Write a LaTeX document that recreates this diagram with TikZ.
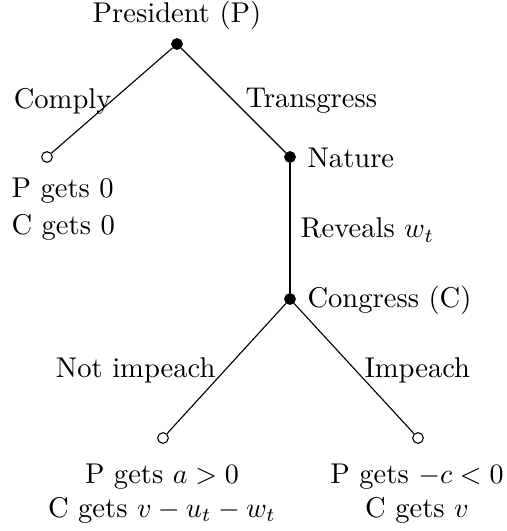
\documentclass[tikz,border=0pt]{standalone}
\usetikzlibrary{calc}
\begin{document}
\begin{tikzpicture}[x=0.357pt,y=-0.357pt,
  full/.style={circle,fill=black,draw=black,inner sep=0pt,minimum size=3.8pt},
  hollow/.style={circle,fill=white,draw=black,inner sep=0pt,minimum size=3.8pt},
  txt/.style={inner sep=0pt,font=\fontsize{10.2}{12.2}\selectfont}]
\useasboundingbox (0,0) rectangle (507,531);
\node[full] (root) at (177,44) {};
\node[hollow] (comply) at (47,157) {};
\node[full] (nature) at (290,157) {};
\node[full] (congress) at (290,299) {};
\node[hollow] (noimp) at (163,438) {};
\node[hollow] (imp) at (418,438) {};
\draw (root) -- (comply);
\draw (root) -- (nature);
\draw (nature) -- (congress);
\draw (congress) -- (noimp);
\draw (congress) -- (imp);
\node[txt] (tP) at (177,15) {President (P)};
\node[txt,anchor=west] (tN) at (307,158) {Nature};
\node[txt,anchor=west] (tC) at (307,300) {Congress (C)};
\node[txt,anchor=east] (lComply) at (112,101) {Comply};
\node[txt,anchor=west] (lTrans) at (245,101) {Transgress};
\node[txt,anchor=west] (lRev) at (300,230) {Reveals $w_t$};
\node[txt,anchor=east] (lNot) at (216,370) {Not impeach};
\node[txt,anchor=west] (lImp) at (364,370) {Impeach};
\node[txt,anchor=west] (p0) at (11,191) {P gets 0};
\node[txt,anchor=west] (c0) at (11,227) {C gets 0};
\node[txt] (pa) at (162,477) {P gets $a>0$};
\node[txt] (ca) at (162,510) {C gets $v-u_t-w_t$};
\node[txt] (pc) at (417,477) {P gets $-c<0$};
\node[txt] (cv) at (417,510) {C gets $v$};
\end{tikzpicture}
\end{document}
